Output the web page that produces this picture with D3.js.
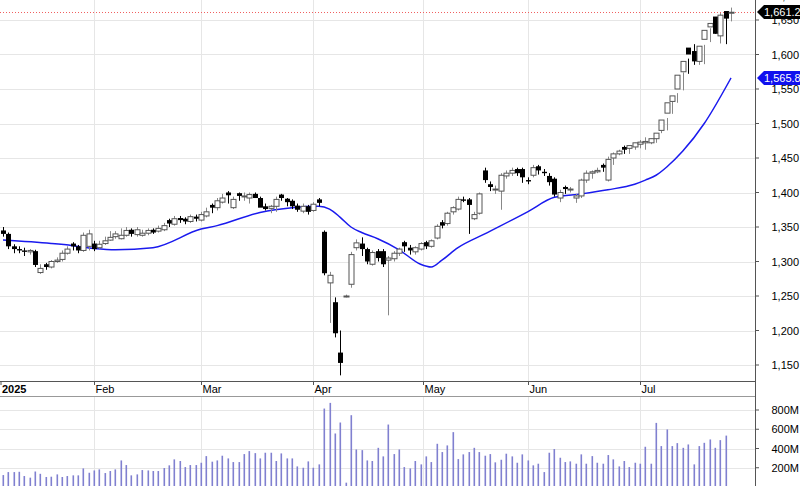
<!DOCTYPE html>
<html><head><meta charset="utf-8">
<script src="https://cdn.jsdelivr.net/npm/d3@7"></script>
<style>body{margin:0;background:#fff}text{font-family:"Liberation Sans",Arial,sans-serif}</style>
</head><body>
<svg width="800" height="486"></svg>
<script>
// month labels: [candle index, label]
const monthTicks = [[-0.5, "2025"], [17, "Feb"], [37, "Mar"], [58, "Apr"], [78.5, "May"], [98, "Jun"], [119, "Jul"]];
const priceTicks = [1150, 1200, 1250, 1300, 1350, 1400, 1450, 1500, 1550, 1600, 1650];
const volTicks = [200, 400, 600, 800];

const opens = [1345,1340,1322,1318,1316,1314,1315,1284,1296,1292,1300,1303,1312,1326,1322,1316,1322,1326,1320,1326,1331,1336,1333,1338,1346,1339,1338,1341,1346,1344,1346,1360,1354,1363,1362,1358,1365,1360,1366,1382,1378,1386,1400,1378,1399,1394,1392,1398,1392,1380,1377,1380,1397,1391,1388,1381,1373,1380,1374,1390,1343,1269,1241,1168,1250,1267,1320,1326,1318,1296,1315,1315,1302,1304,1312,1328,1320,1314,1318,1328,1322,1334,1357,1355,1372,1376,1390,1390,1362,1370,1432,1412,1404,1402,1424,1428,1434,1434,1418,1425,1438,1430,1424,1420,1392,1408,1404,1392,1395,1418,1428,1430,1440,1418,1450,1456,1466,1464,1466,1470,1472,1472,1478,1490,1515,1532,1550,1575,1610,1605,1590,1622,1640,1655,1627,1663,1660];
const highs = [1350,1342,1325,1322,1320,1318,1317,1296,1298,1302,1306,1316,1322,1328,1324,1342,1346,1330,1330,1336,1344,1344,1348,1350,1348,1350,1346,1348,1348,1352,1356,1362,1366,1366,1364,1368,1368,1372,1378,1384,1392,1398,1402,1394,1400,1400,1400,1400,1394,1384,1382,1394,1398,1392,1390,1384,1384,1382,1386,1392,1345,1285,1248,1200,1252,1314,1332,1335,1320,1316,1318,1318,1308,1315,1320,1330,1324,1322,1328,1330,1332,1354,1360,1372,1380,1394,1394,1392,1372,1400,1436,1416,1410,1428,1432,1436,1436,1436,1422,1440,1440,1434,1428,1422,1404,1410,1408,1398,1420,1432,1432,1436,1442,1452,1458,1462,1468,1468,1472,1476,1480,1478,1482,1490,1508,1532,1544,1574,1594,1615,1608,1614,1638,1650,1660,1660,1668,1663];
const lows = [1336,1318,1312,1312,1308,1310,1292,1282,1288,1290,1298,1300,1310,1316,1312,1314,1316,1315,1318,1324,1330,1333,1332,1336,1336,1336,1336,1338,1340,1342,1344,1350,1352,1356,1354,1356,1358,1358,1364,1370,1374,1384,1384,1376,1388,1388,1384,1392,1382,1374,1370,1372,1388,1380,1376,1372,1370,1368,1372,1380,1280,1211,1190,1135,1248,1262,1316,1308,1296,1294,1300,1292,1222,1300,1308,1314,1310,1310,1316,1318,1320,1332,1348,1352,1368,1374,1386,1340,1360,1368,1414,1402,1398,1375,1420,1424,1424,1414,1412,1422,1426,1424,1410,1394,1386,1398,1400,1385,1392,1414,1420,1428,1430,1416,1440,1454,1456,1456,1462,1464,1462,1470,1472,1486,1490,1514,1530,1548,1572,1585,1585,1586,1618,1630,1616,1615,1648,1637];
const closes = [1340,1322,1318,1316,1314,1316,1295,1290,1292,1300,1302,1312,1318,1322,1316,1338,1340,1318,1325,1330,1335,1340,1338,1345,1340,1346,1341,1345,1342,1348,1352,1355,1362,1360,1358,1365,1362,1368,1372,1378,1388,1392,1396,1390,1395,1395,1397,1392,1378,1376,1380,1390,1392,1386,1380,1375,1380,1372,1383,1385,1283,1280,1196,1153,1250,1310,1327,1318,1300,1313,1305,1296,1305,1312,1318,1322,1316,1320,1326,1322,1330,1351,1352,1370,1378,1390,1388,1382,1368,1398,1418,1408,1405,1425,1428,1432,1428,1422,1416,1436,1432,1428,1415,1397,1400,1405,1405,1395,1418,1428,1430,1432,1436,1448,1456,1460,1462,1468,1472,1473,1474,1478,1486,1505,1530,1540,1570,1590,1600,1590,1612,1635,1645,1630,1657,1652,1661.23];
const volumes = [124,155,155,158,114,97,161,137,104,107,131,104,114,121,121,193,148,172,183,145,166,183,276,228,121,131,176,172,166,166,197,225,287,270,207,228,228,252,321,263,276,325,297,259,259,342,373,352,297,356,356,270,349,297,297,214,200,266,200,235,815,874,556,670,45,746,390,383,276,270,407,318,649,342,390,207,193,270,235,318,259,449,363,432,570,290,339,363,407,363,325,342,256,283,346,318,252,339,276,225,242,155,356,394,304,259,266,242,339,242,321,252,242,332,287,214,270,207,252,242,418,242,666,425,598,425,456,407,442,235,425,459,494,407,487,534];
// 20-day moving average, read at a few candle indices
const maIdx = [0, 9, 13, 17, 21, 28, 37, 40, 48, 54, 59, 61, 63, 65, 67, 70, 74, 78, 80, 82, 85, 90, 98, 103, 108, 113, 118, 120, 122, 124, 127, 131, 136];
const maVal = [1331, 1326, 1323, 1319, 1317, 1320, 1347, 1352, 1371, 1378, 1380, 1376, 1364, 1350, 1342, 1333, 1317, 1296, 1292, 1302, 1320, 1340, 1372, 1393, 1398, 1404, 1412, 1418, 1425, 1437, 1460, 1500, 1566];

const svg = d3.select("svg");
const plotR = 755, pTop = 0, pBot = 381, vTop = 397, vBot = 486;

const x = d3.scaleLinear().domain([0, 136]).range([3, 731]);
const y = d3.scaleLinear().domain([1650, 1150]).range([20, 365]);
const yv = d3.scaleLinear().domain([0, 800]).range([487, 410]);

// grids
const grid = svg.append("g").attr("stroke", "#e6e6e6").attr("stroke-width", 1);
priceTicks.forEach(t => grid.append("line").attr("x1", 0).attr("x2", plotR).attr("y1", Math.round(y(t)) + .5).attr("y2", Math.round(y(t)) + .5));
volTicks.forEach(t => grid.append("line").attr("x1", 0).attr("x2", plotR).attr("y1", Math.round(yv(t)) + .5).attr("y2", Math.round(yv(t)) + .5));
monthTicks.slice(1).forEach(([i]) => {
  const xx = Math.round(x(i)) + .5;
  grid.append("line").attr("x1", xx).attr("x2", xx).attr("y1", pTop).attr("y2", pBot);
  grid.append("line").attr("x1", xx).attr("x2", xx).attr("y1", vTop).attr("y2", vBot);
});

// last price dotted line
svg.append("line").attr("x1", 0).attr("x2", plotR).attr("y1", Math.round(y(closes[136])) + .5).attr("y2", Math.round(y(closes[136])) + .5)
  .attr("stroke", "#f06060").attr("stroke-dasharray", "1,2");

// moving average
svg.append("path").datum(maIdx.map((d, k) => [d, maVal[k]]))
  .attr("d", d3.line().x(d => x(d[0])).y(d => y(d[1])).curve(d3.curveMonotoneX))
  .attr("fill", "none").attr("stroke", "#1a1aee").attr("stroke-width", 1.5);

// candles
const cg = svg.append("g");
closes.forEach((c, i) => {
  const o = opens[i], xx = Math.round(x(i)) + .5;
  const up = c >= o;
  cg.append("line").attr("x1", xx).attr("x2", xx).attr("y1", y(highs[i])).attr("y2", y(lows[i]))
    .attr("stroke", up ? "#888" : "#000");
  const top = y(Math.max(o, c)), bot = y(Math.min(o, c));
  cg.append("rect").attr("x", xx - 2.5).attr("width", 5).attr("y", top).attr("height", Math.max(1, bot - top))
    .attr("fill", up ? "#fff" : "#000").attr("stroke", up ? "#555" : "#000").attr("stroke-width", up ? 1 : 0);
});

// volume bars
svg.append("g").selectAll("rect").data(volumes).join("rect")
  .attr("x", (d, i) => Math.round(x(i)) - 0.5).attr("width", 1.6)
  .attr("y", d => yv(d)).attr("height", d => yv(0) - yv(d))
  .attr("fill", "#8080d0");

// date strip
svg.append("line").attr("x1", 0).attr("x2", plotR).attr("y1", pBot + .5).attr("y2", pBot + .5).attr("stroke", "#555");
svg.append("line").attr("x1", 0).attr("x2", plotR).attr("y1", vTop - .5).attr("y2", vTop - .5).attr("stroke", "#999");
monthTicks.forEach(([i, lab], k) => {
  const xx = k === 0 ? 1 : Math.round(x(i)) + .5;
  svg.append("line").attr("x1", xx).attr("x2", xx).attr("y1", pBot).attr("y2", pBot + 4).attr("stroke", "#555");
  svg.append("text").attr("x", xx + 1).attr("y", pBot + 12).attr("font-size", 11)
    .attr("font-weight", k === 0 ? "bold" : "normal").text(lab);
});

// right axis
svg.append("line").attr("x1", plotR + .5).attr("x2", plotR + .5).attr("y1", 0).attr("y2", vBot).attr("stroke", "#555");
const ax = svg.append("g").attr("font-size", 11).attr("text-anchor", "end");
priceTicks.forEach(t => {
  ax.append("line").attr("x1", plotR).attr("x2", plotR + 4).attr("y1", y(t)).attr("y2", y(t)).attr("stroke", "#555");
  ax.append("text").attr("x", 799).attr("y", y(t) + 4).text(d3.format(",")(t));
});
volTicks.forEach(t => {
  ax.append("line").attr("x1", plotR).attr("x2", plotR + 4).attr("y1", yv(t)).attr("y2", yv(t)).attr("stroke", "#555");
  ax.append("text").attr("x", 799).attr("y", yv(t) + 4).text(t + "M");
});

// value tags
function tag(yy, txt, bg, fg) {
  const g = svg.append("g");
  g.append("path").attr("d", `M${plotR + 2},${yy} L${plotR + 9},${yy - 7} L800,${yy - 7} L800,${yy + 7} L${plotR + 9},${yy + 7} Z`).attr("fill", bg);
  g.append("text").attr("x", plotR + 9).attr("y", yy + 4).attr("font-size", 11).attr("fill", fg).text(txt);
}
tag(Math.round(y(closes[136])), "1,661.23", "#000", "#fff");
tag(Math.round(y(maVal[maVal.length - 1])), "1,565.89", "#1010ee", "#fff");
tag(Math.round(yv(volumes[136])), "533,871,", "#9a9ad8", "#000");
</script>
</body></html>
